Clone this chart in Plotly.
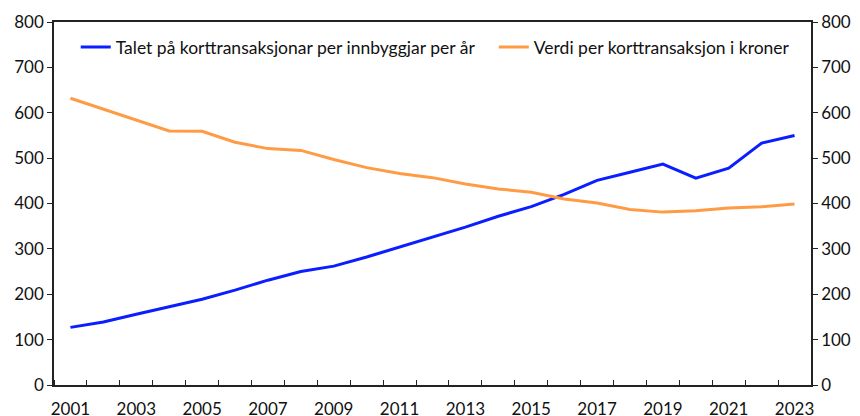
import plotly.graph_objects as go

# År og dei to seriane lese av figuren
years = list(range(2001, 2024))
tal_per_innbyggjar = [127, 139, 156, 173, 189, 209, 231, 250, 262, 282, 304, 326,
                      348, 372, 393, 420, 451, 469, 487, 456, 478, 533, 550]
verdi_per_transaksjon = [632, 608, 584, 560, 559, 535, 521, 517, 497, 479, 466, 457,
                         443, 432, 425, 410, 401, 387, 381, 384, 390, 393, 399]
name_tal = "Talet på korttransaksjonar per innbyggjar per år"
name_verdi = "Verdi per korttransaksjon i kroner"

FONT = "Lato, Carlito, Calibri, sans-serif"
AXIS_COLOR = "#222222"
TEXT_COLOR = "#111111"

fig = go.Figure()
fig.add_scatter(x=years, y=tal_per_innbyggjar, mode="lines", name=name_tal,
                line={"color": "#0A1EFF", "width": 3}, legend="legend")
fig.add_scatter(x=years, y=verdi_per_transaksjon, mode="lines", name=name_verdi,
                line={"color": "#FF9A45", "width": 3}, yaxis="y2", legend="legend2")

yaxis_common = dict(
    range=[0, 800], dtick=100, showgrid=False, zeroline=False, automargin=False,
    showline=True, linecolor=AXIS_COLOR, linewidth=1.5,
    ticks="outside", ticklen=5, tickcolor=AXIS_COLOR, tickwidth=1,
    tickfont={"size": 17, "color": TEXT_COLOR},
)
legend_common = dict(
    orientation="h", y=0.931, xanchor="left", yanchor="middle",
    bgcolor="rgba(0,0,0,0)", font={"size": 17.5, "color": TEXT_COLOR},
)

# sida har 8 px body-marg, difor 852x408 og mindre venstre/topp-marg
fig.update_layout(
    width=852, height=408,
    margin={"l": 46, "r": 49, "t": 14, "b": 31},
    paper_bgcolor="white", plot_bgcolor="white",
    font={"family": FONT, "size": 17, "color": TEXT_COLOR},
    showlegend=True,
    legend=dict(legend_common, x=0.0287),
    legend2=dict(legend_common, x=0.581),
    xaxis=dict(
        range=[2000.5, 2023.5], showgrid=False, zeroline=False, automargin=False,
        showline=True, mirror=True, linecolor=AXIS_COLOR, linewidth=1.5,
        tickmode="array", tickvals=years[::2], ticks="", ticklabelstandoff=8,
        tickfont={"size": 17, "color": TEXT_COLOR},
        minor={"tick0": 2000.5, "dtick": 1, "ticks": "inside", "ticklen": 5,
               "tickcolor": AXIS_COLOR, "tickwidth": 1, "showgrid": False},
    ),
    yaxis=yaxis_common,
    yaxis2=dict(yaxis_common, overlaying="y", side="right"),
)

fig.write_html("out.html")
